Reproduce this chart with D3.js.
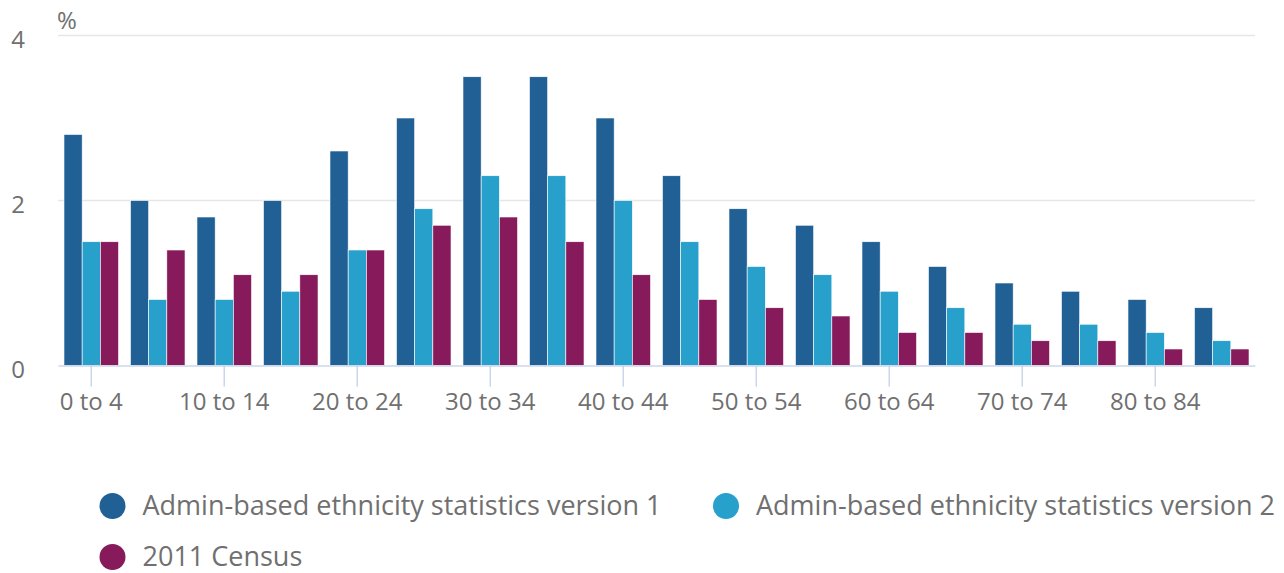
<!DOCTYPE html>
<html>
<head>
<meta charset="utf-8">
<script src="https://cdn.jsdelivr.net/npm/d3@7"></script>
<style>
  html, body { margin: 0; padding: 0; background: #fff; }
  svg { display: block; font-family: "Open Sans", sans-serif; }
</style>
</head>
<body>
<svg id="chart" width="1284" height="573"></svg>
<script>
const categories = ["0 to 4","5 to 9","10 to 14","15 to 19","20 to 24","25 to 29","30 to 34","35 to 39","40 to 44","45 to 49","50 to 54","55 to 59","60 to 64","65 to 69","70 to 74","75 to 79","80 to 84","85 and over"];
const seriesNames = ["Admin-based ethnicity statistics version 1","Admin-based ethnicity statistics version 2","2011 Census"];
const version1 = [2.8,2.0,1.8,2.0,2.6,3.0,3.5,3.5,3.0,2.3,1.9,1.7,1.5,1.2,1.0,0.9,0.8,0.7];
const version2 = [1.5,0.8,0.8,0.9,1.4,1.9,2.3,2.3,2.0,1.5,1.2,1.1,0.9,0.7,0.5,0.5,0.4,0.3];
const census2011 = [1.5,1.4,1.1,1.1,1.4,1.7,1.8,1.5,1.1,0.8,0.7,0.6,0.4,0.4,0.3,0.3,0.2,0.2];
const yTicks = [0,2,4];
const colors = ["#206095","#27a0cc","#871a5b"];

(function () {
const series = [version1, version2, census2011];
const svg = d3.select("#chart");
const mLeft = 58, mRight = 1255, mTop = 35.5, mBottom = 365.5;
const textColor = "#707070";

const x0 = d3.scaleBand().domain(categories).range([mLeft, mRight]).padding(0);
const y = d3.scaleLinear().domain([0, 4]).range([mBottom, mTop]);
const xs = d3.scaleBand().domain(d3.range(series.length)).range([0, x0.bandwidth() * 0.82]);

// gridlines
svg.append("g").selectAll("line").data(yTicks.filter(d => d !== 0)).join("line")
  .attr("x1", mLeft).attr("x2", mRight)
  .attr("y1", d => y(d)).attr("y2", d => y(d))
  .attr("stroke", "#e6e6e6").attr("stroke-width", 1.4);

// y labels
svg.append("g").selectAll("text").data(yTicks).join("text")
  .attr("x", 25).attr("y", d => y(d) + 12)
  .attr("text-anchor", "end").attr("font-size", 24).attr("fill", textColor)
  .text(d => d);

svg.append("text").attr("x", 57).attr("y", 29).attr("font-size", 24).attr("fill", textColor).text("%");

// bars
const groups = svg.append("g").selectAll("g").data(categories).join("g")
  .attr("transform", c => `translate(${x0(c) + x0.bandwidth() * 0.09},0)`);
groups.selectAll("rect").data((c, i) => series.map((s, k) => ({k, v: s[i]}))).join("rect")
  .attr("x", d => xs(d.k)).attr("width", xs.bandwidth())
  .attr("y", d => y(d.v)).attr("height", d => y(0) - y(d.v))
  .attr("fill", d => colors[d.k]).attr("stroke", "#fff").attr("stroke-width", 0.6);

// x axis
const xAxis = d3.axisBottom(x0)
  .tickValues(categories.filter((c, i) => i % 2 === 0))
  .tickSize(21).tickPadding(6).tickSizeOuter(0);
const ax = svg.append("g").attr("transform", `translate(0,${mBottom})`).call(xAxis);
ax.select(".domain").attr("stroke", "#ccd6eb").attr("stroke-width", 1.5);
ax.selectAll(".tick line").attr("stroke", "#ccd6eb").attr("stroke-width", 1.5);
ax.selectAll(".tick text").attr("font-size", 24).attr("fill", textColor)
  .attr("font-family", "Open Sans, sans-serif");

// legend
const legendPos = [[112.5, 506], [726, 506], [112.5, 557]];
const lg = svg.append("g").selectAll("g").data(seriesNames).join("g")
  .attr("transform", (d, i) => `translate(${legendPos[i][0]},${legendPos[i][1]})`);
lg.append("circle").attr("r", 13).attr("fill", (d, i) => colors[i]);
lg.append("text").attr("x", 30).attr("y", 9).attr("font-size", 27).attr("fill", textColor).text(d => d);
})();
</script>
</body>
</html>
